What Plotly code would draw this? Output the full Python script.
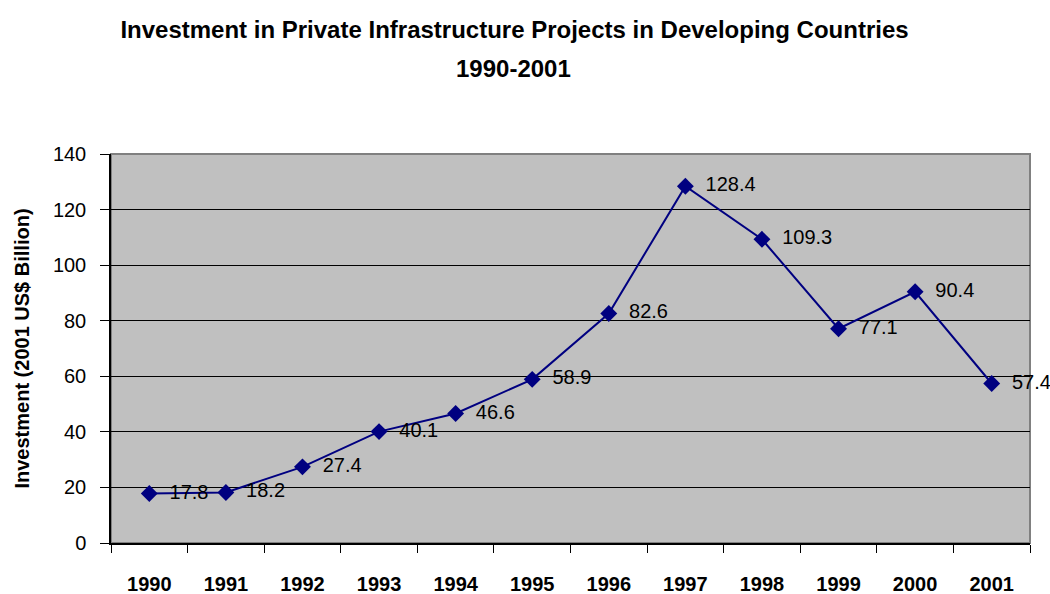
import plotly.graph_objects as go

years = ["1990", "1991", "1992", "1993", "1994", "1995", "1996", "1997", "1998", "1999", "2000", "2001"]
investment = [17.8, 18.2, 27.4, 40.1, 46.6, 58.9, 82.6, 128.4, 109.3, 77.1, 90.4, 57.4]
y_ticks = [0, 20, 40, 60, 80, 100, 120, 140]

FONT = "Liberation Sans Narrow, Arial Narrow, Liberation Sans, Arial, sans-serif"

fig = go.Figure()
fig.add_trace(go.Scatter(
    x=years, y=investment,
    mode="lines+markers+text",
    line=dict(color="#000080", width=2),
    marker=dict(symbol="diamond", size=13, color="#000080"),
    text=["  " + f"{v:.1f}" for v in investment],
    textposition="middle right",
    textfont=dict(family=FONT, size=20, color="#000000"),
    cliponaxis=False,
    showlegend=False,
))

fig.update_layout(
    width=1050, height=594,
    paper_bgcolor="white",
    plot_bgcolor="#C0C0C0",
    margin=dict(l=111, r=20, t=154, b=51, autoexpand=False),
    title=dict(
        text="<b>Investment in Private Infrastructure Projects in Developing Countries</b>",
        x=0.49, xanchor="center", y=1 - 30 / 594, yanchor="middle",
        font=dict(family=FONT, size=24, color="#000000"),
    ),
    annotations=[dict(
        text="<b>1990-2001</b>", xref="paper", yref="paper",
        x=(513 - 111) / (1030 - 111), y=1 + (154 - 68) / (543 - 154),
        xanchor="center", yanchor="middle", showarrow=False,
        font=dict(family=FONT, size=24, color="#000000"),
    )],
    font=dict(family=FONT, color="#000000"),
    shapes=[dict(type="rect", xref="paper", yref="paper", x0=0, x1=1, y0=0, y1=1,
                 line=dict(color="#808080", width=2), layer="below")],
)
fig.update_xaxes(
    type="category",
    tickson="boundaries",
    ticks="outside", ticklen=8, tickcolor="#000000",
    showgrid=False,
    showline=True, linecolor="#000000", linewidth=1.5,
    tickfont=dict(family=FONT, size=20, color="#000000"),
    tickprefix="<b>", ticksuffix="</b>",
    ticklabelstandoff=22,
    range=[-0.5, 11.5],
    automargin=False,
)
fig.update_yaxes(
    range=[0, 140],
    tickvals=y_ticks,
    ticks="outside", ticklen=9, tickcolor="#000000",
    showgrid=True, gridcolor="#000000", gridwidth=1,
    showline=True, linecolor="#000000", linewidth=1.5,
    zeroline=False,
    tickfont=dict(family=FONT, size=20, color="#000000"),
    ticklabelstandoff=10,
    title=dict(text="<b>Investment (2001 US$ Billion)</b>", standoff=18,
               font=dict(family=FONT, size=20, color="#000000")),
    automargin=False,
)

fig.write_html("out.html", config={"displayModeBar": False},
               post_script="document.body.style.margin='0';")
